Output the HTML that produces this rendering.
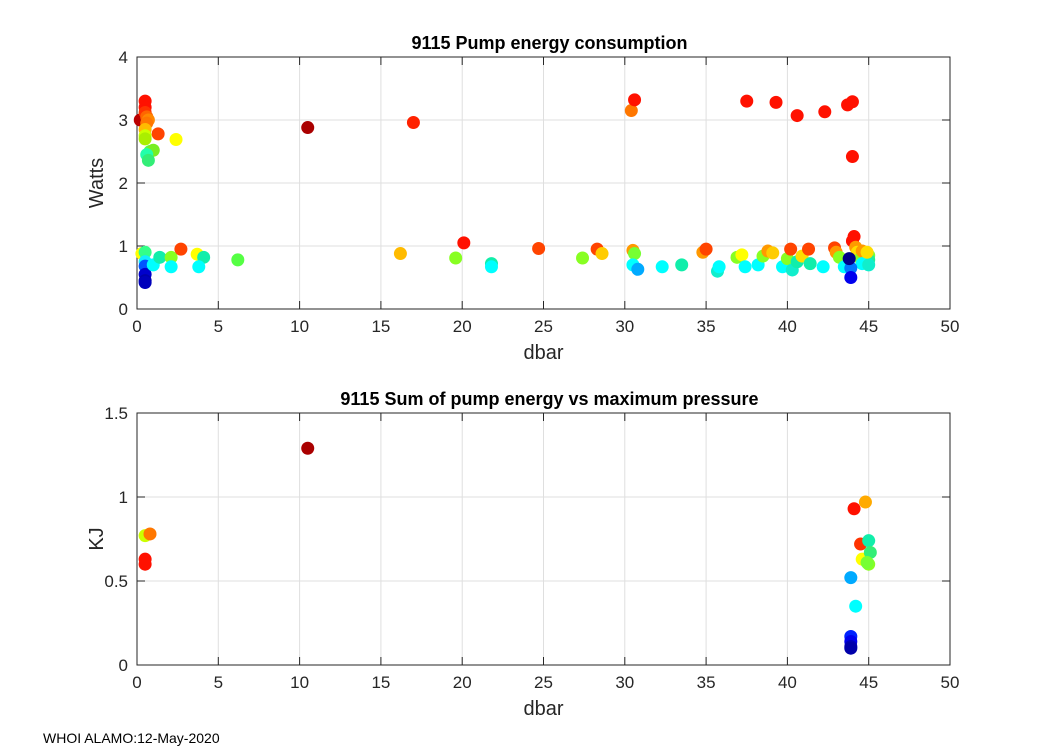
<!DOCTYPE html>
<html><head><meta charset="utf-8"><style>
body{margin:0;background:#fff;}
svg{display:block;font-family:"Liberation Sans",sans-serif;}
</style></head><body>
<svg id="fig" width="1050" height="750">
<rect width="1050" height="750" fill="#fff"/>
</svg>
<script>
const xTicks=[0,5,10,15,20,25,30,35,40,45,50];
const topYTicks=[0,1,2,3,4];
const botYTicks=[0,0.5,1,1.5];
const botYTickLabels=['0','0.5','1','1.5'];
const topX=[0.2,0.5,0.5,0.5,0.6,0.7,0.6,0.5,0.5,0.5,0.8,1.0,0.6,0.7,1.3,2.4,10.5,17,30.4,30.6,37.5,39.3,40.6,42.3,43.7,44,44,44.1,44,
0.3,0.5,0.5,0.5,0.5,0.5,0.5,1.0,1.4,2.1,2.1,2.7,3.7,4.1,3.8,6.2,16.2,19.6,20.1,21.8,21.8,24.7,27.4,28.3,28.6,30.5,30.6,30.5,30.8,32.3,33.5,34.8,35,35.7,35.8,36.9,37.2,37.4,38.2,38.5,38.8,39.1,39.7,40,40.2,40.3,40.6,40.9,41.3,41.4,42.2,42.9,43,43.2,43.5,44.2,44.3,44.5,44.8,44.6,45,45,44.6,45,44.9,43.9,43.8,43.9];
const topY=[3.0,3.3,3.2,3.12,3.05,3.0,2.95,2.85,2.75,2.7,2.5,2.52,2.45,2.36,2.78,2.69,2.88,2.96,3.15,3.32,3.3,3.28,3.07,3.13,3.24,3.29,2.42,1.15,1.08,
0.88,0.9,0.75,0.68,0.55,0.45,0.42,0.7,0.82,0.82,0.67,0.95,0.87,0.82,0.67,0.78,0.88,0.81,1.05,0.72,0.67,0.96,0.81,0.95,0.88,0.93,0.88,0.7,0.63,0.67,0.7,0.9,0.95,0.6,0.67,0.82,0.86,0.67,0.7,0.84,0.92,0.89,0.67,0.8,0.95,0.62,0.75,0.84,0.95,0.72,0.67,0.97,0.9,0.82,0.67,0.98,0.9,0.8,0.75,0.92,0.85,0.78,0.72,0.7,0.9,0.65,0.8,0.5];
const topC=['#b00','#f10','#f10','#f30','#f60','#f80','#f70','#fb0','#cf0','#ae0','#5f4','#7e2','#2fa','#3e7','#f40','#ff0','#a00','#f20','#f70','#f10','#f10','#f10','#f10','#f10','#f10','#f10','#f10','#f10','#f10',
'#ff0','#3f8','#1ef','#05f','#00c','#00a','#00b','#0ff','#1ea','#8f2','#0ff','#f40','#ff0','#1ea','#0ff','#5f4','#fb0','#8f2','#f10','#1ea','#0ff','#f40','#8f2','#f40','#fc0','#f90','#7f3','#0ff','#0af','#0ff','#1ea','#f90','#f40','#1ec','#0ff','#8f2','#ff0','#0ff','#0ff','#8f2','#f90','#fc0','#0ff','#8f2','#f40','#1ec','#1ea','#fd0','#f40','#1ea','#0ff','#f40','#f90','#8f2','#0ff','#f90','#fd0','#8f2','#1ea','#f90','#7f3','#2e9','#0ff','#1ec','#fd0','#07f','#008','#00e'];
const botX=[0.5,0.5,0.5,0.8,10.5,44.1,44.8,44.5,44.6,45,45.1,45,44.9,43.9,44.2,43.9,43.9,43.9,43.9];
const botY=[0.63,0.6,0.77,0.78,1.29,0.93,0.97,0.72,0.63,0.74,0.67,0.6,0.61,0.52,0.35,0.17,0.14,0.11,0.1];
const botC=['#f10','#f10','#cf0','#f70','#a00','#f10','#fa0','#f30','#ff0','#1ea','#3e7','#8f2','#7f3','#0af','#0ff','#02f','#00e','#00b','#00a'];

const svg=document.getElementById('fig');
const NS='http://www.w3.org/2000/svg';
function mk(tag,attrs,parent){const e=document.createElementNS(NS,tag);for(const k in attrs)e.setAttribute(k,attrs[k]);(parent||svg).appendChild(e);return e;}
function txt(s,attrs){const e=mk('text',attrs);e.textContent=s;return e;}

function axes(name,top,bottom,ymax,yTicks,yLabels,xs,ys,cs,title,ylab){
  const L=137,R=950;
  const sx=v=>L+(v/50)*(R-L);
  const sy=v=>bottom-(v/ymax)*(bottom-top);
  const g=mk('g',{});
  
  
  mk('rect',{x:L,y:top,width:R-L,height:bottom-top,fill:'#fff'},g);
  xTicks.forEach(t=>{mk('line',{x1:sx(t),x2:sx(t),y1:top,y2:bottom,stroke:'#dfdfdf','stroke-width':1},g);});
  yTicks.forEach(t=>{mk('line',{x1:L,x2:R,y1:sy(t),y2:sy(t),stroke:'#dfdfdf','stroke-width':1},g);});
  mk('rect',{x:L,y:top,width:R-L,height:bottom-top,fill:'none',stroke:'#262626','stroke-width':1},g);
  xTicks.forEach(t=>{
    mk('line',{x1:sx(t),x2:sx(t),y1:bottom,y2:bottom-8,stroke:'#262626'},g);
    mk('line',{x1:sx(t),x2:sx(t),y1:top,y2:top+8,stroke:'#262626'},g);
    const e=txt(String(t),{x:sx(t),y:bottom+23,'text-anchor':'middle','font-size':17,fill:'#262626'});
    
    
  });
  yTicks.forEach((t,i)=>{
    mk('line',{x1:L,x2:L+8,y1:sy(t),y2:sy(t),stroke:'#262626'},g);
    mk('line',{x1:R,x2:R-8,y1:sy(t),y2:sy(t),stroke:'#262626'},g);
    const e=txt(yLabels[i],{x:L-9,y:sy(t)+6,'text-anchor':'end','font-size':17,fill:'#262626'});
    
    
  });
  xs.forEach((x,i)=>{
    const c=mk('circle',{cx:sx(x),cy:sy(ys[i]),r:6.5,fill:cs[i]},g);
    
    
  });
  const t=txt(title,{x:(L+R)/2+6,y:top-8,'text-anchor':'middle','font-size':18,'font-weight':'bold',fill:'#000'});
  
  
  const xl=txt('dbar',{x:(L+R)/2,y:bottom+50,'text-anchor':'middle','font-size':20,fill:'#262626'});
  
  
  const yc=(top+bottom)/2;
  const yl=txt(ylab,{x:103,y:yc,'text-anchor':'middle','font-size':20,fill:'#262626',transform:'rotate(-90 103 '+yc+')'});
  
  
}
axes('energy',57,309,4,topYTicks,topYTicks.map(String),topX,topY,topC,'9115 Pump energy consumption','Watts');
axes('sum-energy',413,665,1.5,botYTicks,botYTickLabels,botX,botY,botC,'9115 Sum of pump energy vs maximum pressure','KJ');
const f=txt('WHOI ALAMO:12-May-2020',{x:43,y:743,'font-size':14,fill:'#000'});


</script>
</body></html>
